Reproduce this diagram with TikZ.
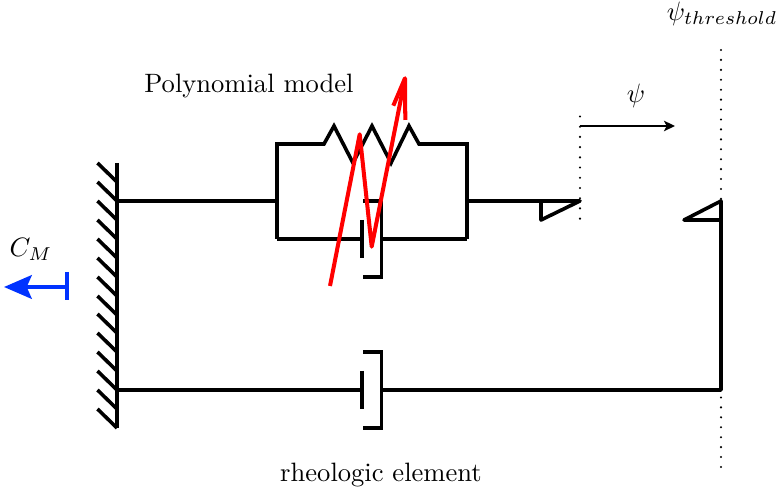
\documentclass[tikz,border=0pt]{standalone}
\usetikzlibrary{arrows.meta}
\definecolor{arrowblue}{RGB}{0,50,255}
\tikzset{
  x=0.3613pt,y=-0.3613pt,
  mech/.style={line width=1.3pt,black,line cap=butt,line join=miter},
  wedge/.style={mech,line join=round},
  limit/.style={line width=0.85pt,line cap=round},
  limitlong/.style={limit,dash pattern=on 0pt off 3.587pt},
  limitshort/.style={limit,dash pattern=on 0pt off 3.69pt},
  travel/.style={line width=0.6pt,-{Stealth[length=4pt,width=3.8pt,inset=1pt]}},
  redpath/.style={line width=1.45pt,red,line join=round},
  load/.style={line width=1.5pt,arrowblue},
  label/.style={inner sep=0pt,text=black,scale=0.96}
}
\begin{document}
\begin{tikzpicture}
\useasboundingbox (0,0) rectangle (777,488);
% wall
\draw[mech] (117,163) -- (117,428);
\foreach \y in {163,182,201,220,239,258,277,296,314,333,352,371,390,409}
  \draw[mech] (97.5,\y) -- (117,\y+19);
% upper branch
\draw[mech] (117,201) -- (277,201);
\draw[mech] (277,239) -- (277,144) -- (324,144) -- (334,126) -- (353,163) -- (372,126) -- (391,163) -- (409,126) -- (419,144) -- (467,144) -- (467,239);
\draw[mech] (277,239) -- (362,239);
\draw[mech] (362,220) -- (362,258);
\draw[mech] (363,201) -- (381.5,201) -- (381.5,277) -- (363,277);
\draw[mech] (381.5,239) -- (467,239);
\draw[wedge] (467,201) -- (580,201) -- (541,220) -- (541,201);
% lower branch
\draw[mech] (117,390) -- (362,390);
\draw[mech] (362,371) -- (362,409);
\draw[mech] (363,352) -- (381.5,352) -- (381.5,428) -- (363,428);
\draw[wedge] (381.5,390) -- (721,390) -- (721,201) -- (684,220) -- (721,220);
% limits
\draw[limitshort] (580,116.5) -- (580,221);
\draw[limitlong] (721,50) -- (721,468);
\draw[travel] (580,126) -- (675,126);
% red variable symbol
\draw[redpath] (330,286) -- (359.7,134.3) -- (371.7,246.7) -- (405,78.3);
\draw[redpath] (393.3,105.7) -- (405,78.3) -- (405.3,120);
% moment
\draw[load] (67,272) -- (67,300);
\draw[load,-{Stealth[length=10pt,width=8.5pt,inset=1.8pt]}] (67,287) -- (4,287);
% labels
\node[label] (cm) at (31,249) {$C_M$};
\node[label] (poly) at (249,86) {Polynomial model};
\node[label] (psi) at (636,96) {$\psi$};
\node[label] (thr) at (722,14) {$\psi_{threshold}$};
\node[label] (rheo) at (381,475) {rheologic element};
\end{tikzpicture}
\end{document}
